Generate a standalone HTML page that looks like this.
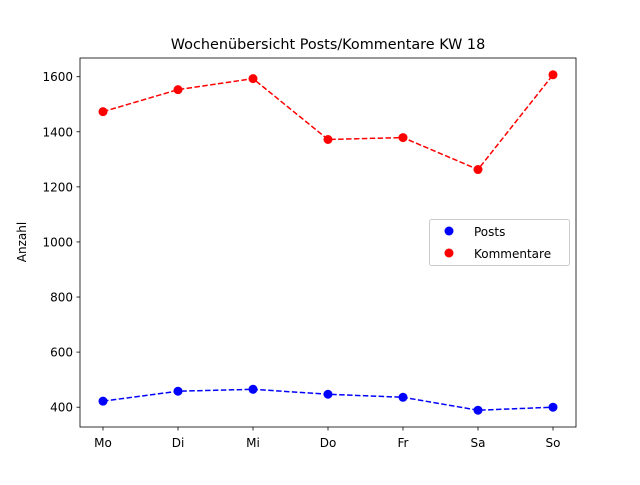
<!DOCTYPE html>
<html><head><meta charset="utf-8"><style>
body{margin:0;background:#fff;font-family:"Liberation Sans","DejaVu Sans",sans-serif;}
svg text{font-family:"DejaVu Sans","Liberation Sans",sans-serif;}
</style></head><body>
<svg id="chart" width="640" height="480" xmlns="http://www.w3.org/2000/svg">
<rect width="640" height="480" fill="#fff"/>
<text x="328" y="49" font-size="14.4" text-anchor="middle">Wochenübersicht Posts/Kommentare KW 18</text>
<text transform="translate(26,242) rotate(-90)" font-size="12" text-anchor="middle">Anzahl</text>
<g id="grid"></g>
<g id="series"></g>
<rect x="80" y="58" width="496" height="369" fill="none" stroke="#000" stroke-width="0.8"/>
<g>
<rect x="429.5" y="219.5" width="140" height="46" rx="2" fill="#fff" stroke="#ccc"/>
<circle cx="449" cy="231" r="4.5" fill="#0000ff"/>
<text x="474" y="236" font-size="12">Posts</text>
<circle cx="449" cy="253" r="4.5" fill="#ff0000"/>
<text x="474" y="258" font-size="12">Kommentare</text>
</g>
</svg>
<script>
const categories = ["Mo","Di","Mi","Do","Fr","Sa","So"];
const posts = [422,458,465,447,436,389,400];
const kommentare = [1473,1553,1593,1372,1379,1263,1607];
const yTicks = [400,600,800,1000,1200,1400,1600];

const L=80,R=576,T=58,B=427;
const all=posts.concat(kommentare);
const mn=Math.min(...all),mx=Math.max(...all),pad=(mx-mn)*0.05;
const y0=mn-pad,y1=mx+pad;
const xs=i=>103+i*(553-103)/(categories.length-1);
const ys=v=>B-(v-y0)/(y1-y0)*(B-T);
const NS="http://www.w3.org/2000/svg";
const g=document.getElementById('grid'),s=document.getElementById('series');
function mk(tag,attrs,parent){const e=document.createElementNS(NS,tag);for(const k in attrs)e.setAttribute(k,attrs[k]);parent.appendChild(e);return e;}
yTicks.forEach(v=>{
  const y=ys(v);
  const t=mk('line',{x1:76.5,x2:80,y1:y,y2:y,stroke:'#000','stroke-width':0.8},g);
  
  
  const l=mk('text',{x:73,y:y+4.5,'font-size':12,'text-anchor':'end'},g);l.textContent=v;
  
  
});
categories.forEach((c,i)=>{
  const x=xs(i);
  const t=mk('line',{x1:x,x2:x,y1:427,y2:430.5,stroke:'#000','stroke-width':0.8},g);
  
  
  const l=mk('text',{x:x,y:447,'font-size':12,'text-anchor':'middle'},g);l.textContent=c;
  
  
});
function draw(data,color,name){
  const pts=data.map((v,i)=>xs(i)+','+ys(v)).join(' ');
  const pl=mk('polyline',{points:pts,fill:'none',stroke:color,'stroke-width':1.5,'stroke-dasharray':'5.5,2.4'},s);
  
  
  data.forEach((v,i)=>{
    const c=mk('circle',{cx:xs(i),cy:ys(v),r:4.5,fill:color},s);
    
    
  });
}
draw(posts,'#0000ff','posts');
draw(kommentare,'#ff0000','kommentare');
</script>
</body></html>
